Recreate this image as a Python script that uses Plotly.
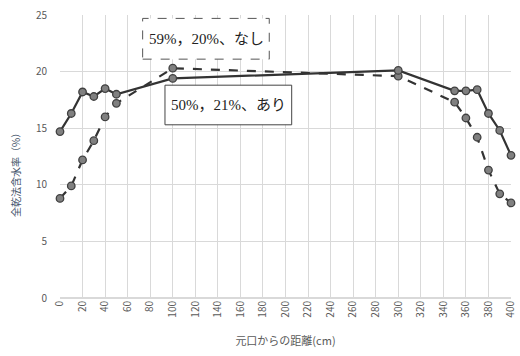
import plotly.graph_objects as go

dist_solid = [0, 10, 20, 30, 40, 50, 100, 300, 350, 360, 370, 380, 390, 400]
mc_solid = [14.7, 16.3, 18.2, 17.8, 18.5, 18.0, 19.4, 20.1, 18.3, 18.3, 18.4, 16.3, 14.8, 12.6]

dist_dash = [0, 10, 20, 30, 40, 50, 100, 300, 350, 360, 370, 380, 390, 400]
mc_dash = [8.8, 9.9, 12.2, 13.9, 16.0, 17.2, 20.3, 19.6, 17.3, 15.9, 14.2, 11.3, 9.2, 8.4]

label_solid = "50%，21%、あり"
label_dash = "59%，20%、なし"
y_title = "全乾法含水率（%）"
x_title = "元口からの距離(cm)"
x_ticks = list(range(0, 401, 20))
y_ticks = [0, 5, 10, 15, 20, 25]

fig = go.Figure()
marker = dict(size=7.5, color="#808080", line=dict(color="#404040", width=1.3))
fig.add_trace(go.Scatter(x=dist_dash, y=mc_dash, mode="lines+markers",
                         line=dict(color="#333333", width=2.2, dash="dash"),
                         marker=marker, name=label_dash, cliponaxis=False))
fig.add_trace(go.Scatter(x=dist_solid, y=mc_solid, mode="lines+markers",
                         line=dict(color="#333333", width=2.2),
                         marker=marker, name=label_solid, cliponaxis=False))

text_font = dict(family="Liberation Serif, Noto Sans CJK JP", size=15, color="#222222")
fig.add_shape(type="rect", xref="x", yref="y", x0=73.3, x1=185.6, y0=21.1, y1=24.7,
              line=dict(color="#555555", width=1, dash="dash"), fillcolor="white", layer="above")
fig.add_shape(type="rect", xref="x", yref="y", x0=93.1, x1=205.5, y0=15.3, y1=18.8,
              line=dict(color="#444444", width=1), fillcolor="white", layer="above")
fig.add_annotation(x=129.5, y=22.9, xref="x", yref="y", text=label_dash, showarrow=False, font=text_font)
fig.add_annotation(x=149.3, y=17.05, xref="x", yref="y", text=label_solid, showarrow=False, font=text_font)
fig.add_annotation(x=-0.1, y=0.445, xref="paper", yref="paper", text=y_title, showarrow=False,
                   xanchor="center", yanchor="middle",
                   textangle=-90, font=dict(size=10, color="#44546a"))

fig.update_layout(
    width=520, height=356,
    margin=dict(l=60, r=9, t=15, b=58),
    paper_bgcolor="white", plot_bgcolor="white",
    showlegend=False,
    font=dict(family="Noto Sans CJK JP, Noto Sans", color="#595959", size=10),
)
fig.update_xaxes(range=[0, 400], tickvals=x_ticks, ticktext=[str(v) for v in x_ticks],
                 tickangle=-90, showgrid=True, gridcolor="#d9d9d9", gridwidth=1,
                 zeroline=False, showline=False, ticks="", automargin=False,
                 title=dict(text=x_title, font=dict(size=11, color="#595959"), standoff=20))
fig.update_yaxes(range=[0, 25], tickvals=y_ticks, showgrid=True, gridcolor="#d9d9d9", gridwidth=1,
                 zeroline=True, zerolinecolor="#d9d9d9", showline=False, ticks="",
                 ticklabelstandoff=12, automargin=False)
fig.write_html("out.html", config={"displayModeBar": False},
               post_script="document.body.style.margin='0';")
